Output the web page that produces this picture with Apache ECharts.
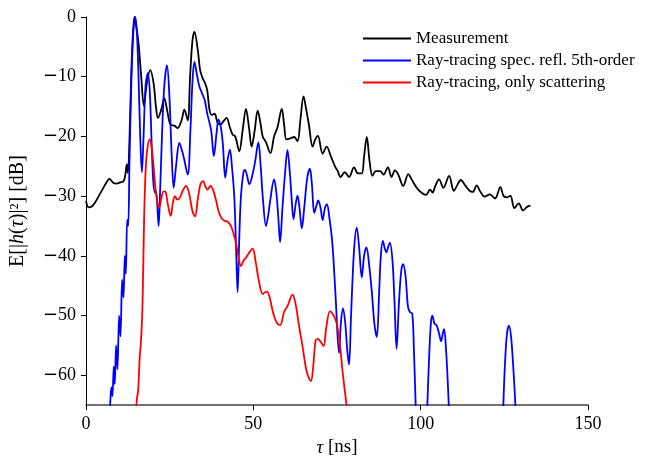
<!DOCTYPE html>
<html>
<head>
<meta charset="utf-8">
<title>Power delay profile</title>
<script src="https://cdn.jsdelivr.net/npm/echarts@6/dist/echarts.min.js"></script>
<style>
  html, body { margin: 0; padding: 0; background: #fff; }
  #chart { width: 653px; height: 462px; }
</style>
</head>
<body>
<div id="chart"></div>
<script>
// Power delay profiles: [delay tau in ns, power in dB]
const measurement = [
  [0,-30.8],[0.8,-31.9],[1.8,-31.7],[2.8,-31],[3.8,-30],[4.8,-29],[5.8,-28],[7.0,-27.1],[8.2,-27.8],
  [9.2,-27.9],[10.2,-27.7],[11.2,-27.5],[11.7,-26.6],[12.2,-24.7],[12.5,-26.1],[12.9,-22.2],
  [13.5,-10],[14.0,-3],[14.5,0],[15.0,-1.5],[15.7,-4.4],[16.5,-10],[17.3,-14.9],[18.2,-11],
  [19.2,-8.9],[20.2,-11.1],[20.9,-15],[21.5,-16.9],[22.5,-15.5],[23.4,-13.6],[24.2,-15.5],
  [25.2,-18],[26.4,-18.2],[27.4,-18.6],[28.6,-17.2],[29.4,-15.5],[30.4,-17.3],[31.1,-10],
  [31.8,-4],[32.4,-2.5],[33.4,-5.5],[34.1,-8.9],[34.9,-10.3],[35.5,-11],[36.2,-12.2],
  [36.9,-15.5],[37.6,-16.4],[38.4,-16.2],[39.4,-17.8],[40.3,-18],[40.9,-17.6],[42.0,-16.9],
  [43.0,-18.5],[43.8,-19.7],[44.6,-20],[45.8,-22.5],[46.8,-19],[47.8,-15.4],[48.7,-18.5],
  [49.5,-21.7],[50.4,-19],[51.3,-15.7],[52.2,-18],[52.8,-20],[53.8,-21],[55.1,-22.8],
  [56.2,-20],[57.2,-18.5],[58.5,-15.4],[59.2,-18],[59.9,-20.5],[61.2,-20.3],[62.2,-20.1],
  [63.2,-20.8],[64.1,-17],[65.0,-13.3],[65.8,-15.5],[66.6,-18],[67.7,-21.7],[68.5,-20.5],
  [69.3,-19.9],[70.7,-22.9],[71.9,-21.7],[73.2,-23.4],[74.4,-25],[75.2,-25.8],[76.1,-26.8],
  [77.3,-26],[78.6,-26.8],[80.1,-25.2],[81.3,-26.2],[82.4,-26.2],[83.1,-23.3],[83.9,-20.1],
  [84.7,-24],[85.6,-26.6],[86.6,-25.8],[87.9,-25.8],[88.9,-26.4],[90.2,-25.2],[91.3,-26.8],
  [92.3,-25.7],[93.3,-26.4],[94.8,-28.3],[96.3,-26.3],[97.3,-27.2],[98.8,-28.6],[100.2,-29.4],
  [101.6,-29.8],[102.8,-28.9],[103.6,-29.4],[104.3,-28.4],[105.5,-27.2],[106.8,-28.6],
  [108.5,-26.6],[109.9,-29.1],[110.9,-28.2],[112.0,-27.3],[113.3,-28.2],[114.6,-29.1],
  [115.6,-29.3],[116.7,-28.2],[117.9,-29.3],[119.1,-30.1],[120.7,-29.7],[122.2,-30.4],
  [123.8,-28.5],[124.8,-30],[125.9,-30.2],[126.8,-29.9],[128.0,-32],[129.3,-31.2],
  [130.6,-32.4],[131.8,-31.8],[132.8,-31.6]
];

const specular = [
  [7.0,-68],[7.3,-64],[7.6,-62],[7.9,-63.5],[8.3,-58.5],[8.6,-61.5],[9.0,-55],[9.4,-59],
  [9.9,-50],[10.3,-53.5],[10.8,-44],[11.2,-47],[11.6,-40],[11.9,-43],[12.3,-34],[12.6,-35],
  [13.0,-24],[13.5,-12],[14.1,-3],[14.7,0],[15.2,-2.5],[15.7,-10],[16.2,-20],[16.7,-26],
  [17.2,-20],[17.8,-11.5],[18.5,-9.4],[19.1,-13],[19.6,-21],[20.1,-27.5],[20.6,-29.4],
  [20.9,-29.2],[21.3,-31.5],[21.7,-35],[22.1,-30],[22.7,-20],[23.4,-11.5],[24.2,-8.1],
  [24.9,-13],[25.6,-23],[26.2,-28.6],[26.9,-25],[27.9,-21.1],[28.6,-22.2],[29.2,-23.5],
  [30.4,-26.4],[31.2,-19],[31.8,-11],[32.4,-7.5],[33.1,-9.5],[33.9,-11.7],[34.7,-12.8],
  [35.5,-14],[36.2,-16.1],[37.4,-19],[38.2,-23.3],[39.0,-19.5],[39.6,-17.2],[40.3,-18.5],
  [40.9,-21.3],[41.6,-26.9],[42.3,-24],[43.0,-22.2],[43.6,-25],[44.3,-30],[44.8,-38],
  [45.3,-46.1],[45.8,-37],[46.3,-30],[47.0,-26.2],[47.5,-25.6],[48.1,-26.5],[48.8,-28],
  [49.8,-26.3],[50.6,-24],[51.5,-21],[52.2,-25],[52.8,-30],[53.8,-35],[54.5,-33],[55.1,-30.5],
  [56.2,-27.2],[56.8,-29],[57.4,-33],[58.0,-37.7],[58.7,-32],[59.5,-26],[60.2,-22.3],
  [60.9,-26],[61.4,-30],[62.0,-33.9],[62.6,-31.5],[63.2,-29.9],[63.8,-32],[64.5,-35.4],
  [65.2,-32],[66.1,-27],[66.9,-25.4],[67.5,-28],[68.2,-32.8],[68.8,-31.7],[69.4,-30.7],
  [70.1,-32],[70.7,-34],[71.4,-32],[72.0,-31.4],[72.7,-33.5],[73.6,-37.8],[74.6,-47],
  [75.6,-56.3],[76.2,-51],[76.8,-48.8],[77.5,-51.5],[78.1,-56],[78.6,-58.2],[79.2,-50],
  [80.1,-39],[80.9,-35.3],[81.6,-38.5],[82.4,-43.6],[83.1,-40],[83.8,-38.6],[84.6,-41.5],
  [85.4,-46],[86.2,-51.5],[86.9,-53.6],[87.6,-46],[88.1,-40],[88.7,-37.5],[89.3,-38.8],
  [89.8,-39.4],[90.3,-38.5],[90.8,-37.8],[91.6,-41],[92.2,-48],[92.8,-55.6],[93.5,-48],
  [94.2,-42.5],[94.8,-41.4],[95.5,-43.5],[96.2,-48.5],[96.8,-49.4],[97.5,-49.7],[98.0,-56],
  [98.5,-65],[98.9,-72],[101.6,-72],[102.0,-65],[102.6,-56],[103.1,-51],[103.5,-50],
  [104.1,-51.3],[104.8,-51.7],[105.5,-53],[106.1,-54.3],[106.6,-53],[107.0,-52.3],
  [107.5,-55],[108.0,-60],[108.4,-65],[108.9,-72],[124.3,-72],[124.7,-65],[125.2,-58],
  [125.8,-53],[126.4,-51.7],[127.0,-53.5],[127.6,-58],[128.3,-65],[128.7,-72]
];

const scattering = [
  [14.8,-68],[15.2,-64],[15.6,-62.5],[16.0,-57.5],[16.4,-54.5],[16.8,-50],[17.1,-42],
  [17.4,-33],[17.8,-26],[18.3,-22.2],[19.0,-20.5],[19.6,-21.8],[20.2,-25],[20.8,-28.9],
  [21.4,-31.2],[21.9,-31.9],[22.5,-30.4],[23.2,-29.2],[23.8,-29.3],[24.5,-31.5],[25.3,-33.3],
  [26.0,-31],[26.6,-30],[27.3,-30.6],[28.0,-30.3],[29.0,-29],[29.9,-28.3],[30.8,-29.5],
  [31.8,-32.5],[32.6,-33.4],[33.4,-30.5],[34.2,-28],[35.0,-27.5],[35.7,-28.4],[36.3,-28.9],
  [37.2,-28.3],[38.0,-29],[38.9,-30.8],[39.6,-32.5],[40.4,-33.6],[41.3,-34.1],[42.3,-34.3],
  [43.3,-35],[44.2,-36.5],[44.8,-37.8],[45.5,-40],[46.3,-41.7],[47.1,-40.8],[47.8,-40.3],
  [48.6,-39.6],[49.8,-38.8],[50.7,-41],[51.6,-44],[52.8,-46.4],[53.5,-46.1],[54.1,-46],
  [54.9,-47],[55.9,-49.5],[57.0,-51.2],[58.0,-51.6],[59.2,-49.4],[60.3,-48.3],[61.7,-46.5],
  [62.6,-48],[63.6,-51.5],[64.8,-55.5],[66.0,-59.5],[67.2,-61],[67.9,-58.5],[68.6,-54.2],
  [69.3,-53.9],[70.0,-54.3],[71.0,-55.1],[71.8,-52],[72.9,-49.3],[74.1,-50.1],[75.0,-51.5],
  [75.9,-55],[76.6,-59],[77.2,-62],[77.9,-65.3],[78.3,-68]
];

const seriesNames = ['Measurement', 'Ray-tracing spec. refl. 5th-order', 'Ray-tracing, only scattering'];
const xTicks = [0, 50, 100, 150];
const yTicks = [0, -10, -20, -30, -40, -50, -60];

const serif = 'Liberation Serif';
// negative tick labels get a wide typographic minus
const signed = v => (v < 0 ? '{m|\u2212}' + Math.abs(v) : String(v));

const chart = echarts.init(document.getElementById('chart'), null, { renderer: 'canvas' });

function lineSeries(name, data, color) {
  return {
    name, type: 'line', data,
    showSymbol: false, symbol: 'none',
    smooth: 0.35,
    clip: true,
    lineStyle: { color, width: 1.8 },
    itemStyle: { color },
    emphasis: { disabled: true },
    animation: false
  };
}

chart.setOption({
  animation: false,
  backgroundColor: '#fff',
  grid: { left: 85, right: 65, top: 17, bottom: 55, containLabel: false },
  legend: {
    orient: 'vertical',
    left: 362, top: 30, padding: 0,
    itemWidth: 48, itemHeight: 14, itemGap: 5,
    itemStyle: { opacity: 0 },
    textStyle: { fontFamily: serif, fontSize: 17, color: '#000' },
    data: seriesNames
  },
  xAxis: {
    type: 'value',
    min: 0, max: 150, interval: 50,
    name: '{i|τ} [ns]',
    nameLocation: 'middle', nameGap: 31,
    nameTextStyle: {
      fontFamily: serif, fontSize: 19, color: '#000',
      rich: { i: { fontFamily: serif, fontStyle: 'italic', fontSize: 19, color: '#000' } }
    },
    axisLine: { onZero: false, lineStyle: { color: '#444', width: 1.5 } },
    axisTick: { inside: false, length: 5, lineStyle: { color: '#000' }, customValues: xTicks },
    axisLabel: { fontFamily: serif, fontSize: 18, color: '#000', margin: 10, customValues: xTicks },
    splitLine: { show: false }
  },
  yAxis: {
    type: 'value',
    min: -65, max: 0,
    name: '{n|E[|}{i|h}{n|(}{i|τ}{n|)|²] [dB]}',
    nameLocation: 'middle', nameGap: 58, nameRotate: 90,
    nameTextStyle: {
      color: '#000',
      rich: {
        n: { fontFamily: serif, fontSize: 20, color: '#000' },
        i: { fontFamily: serif, fontStyle: 'italic', fontSize: 20, color: '#000' }
      }
    },
    axisLine: { onZero: false, lineStyle: { color: '#000', width: 1 } },
    axisTick: { inside: false, length: 5, lineStyle: { color: '#000' }, customValues: yTicks },
    axisLabel: {
      fontFamily: serif, fontSize: 18, color: '#000', margin: 10,
      customValues: yTicks, formatter: signed,
      rich: { m: { fontFamily: 'DejaVu Sans', fontSize: 18, color: '#000' } }
    },
    splitLine: { show: false }
  },
  series: [
    lineSeries(seriesNames[0], measurement, '#000000'),
    lineSeries(seriesNames[1], specular, '#0000ff'),
    lineSeries(seriesNames[2], scattering, '#ff0000')
  ]
});
</script>
</body>
</html>
